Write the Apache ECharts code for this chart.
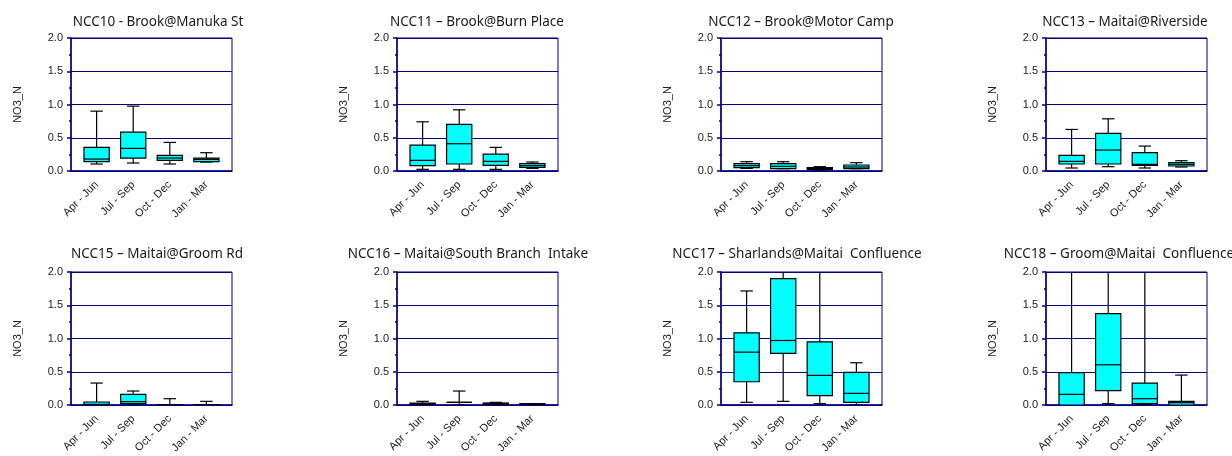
<!DOCTYPE html>
<html>
<head>
<meta charset="utf-8">
<script src="https://cdn.jsdelivr.net/npm/echarts@6/dist/echarts.min.js"></script>
<style>
  html, body { margin: 0; padding: 0; background: #fff; }
  #chart { width: 1232px; height: 456px; }
</style>
</head>
<body>
<div id="chart"></div>
<script>
// Seasonal NO3_N box plots for eight monitoring sites.
const seasons = ['Apr - Jun', 'Jul - Sep', 'Oct - Dec', 'Jan - Mar'];
const yTicks = [0, 0.5, 1.0, 1.5, 2.0];

const siteTitles = [
  'NCC10 - Brook@Manuka St',
  'NCC11 \u2013 Brook@Burn Place',
  'NCC12 \u2013 Brook@Motor Camp',
  'NCC13 \u2013 Maitai@Riverside',
  'NCC15 \u2013 Maitai@Groom Rd',
  'NCC16 \u2013 Maitai@South Branch  Intake',
  'NCC17 \u2013 Sharlands@Maitai  Confluence',
  'NCC18 \u2013 Groom@Maitai  Confluence'
];

// Each season: [min, Q1, median, Q3, max]
const ncc10 = [[0.105, 0.14, 0.18, 0.355, 0.90], [0.12, 0.195, 0.34, 0.585, 0.975], [0.105, 0.16, 0.195, 0.235, 0.43], [0.135, 0.14, 0.175, 0.195, 0.275]];
const ncc11 = [[0.025, 0.08, 0.16, 0.39, 0.74], [0.025, 0.105, 0.41, 0.70, 0.92], [0.025, 0.085, 0.145, 0.255, 0.355], [0.04, 0.055, 0.08, 0.11, 0.135]];
const ncc12 = [[0.04, 0.05, 0.08, 0.11, 0.14], [0.035, 0.035, 0.07, 0.11, 0.14], [0.015, 0.025, 0.035, 0.05, 0.065], [0.035, 0.035, 0.06, 0.09, 0.125]];
const ncc13 = [[0.045, 0.105, 0.145, 0.235, 0.625], [0.065, 0.105, 0.315, 0.565, 0.785], [0.045, 0.085, 0.10, 0.275, 0.375], [0.06, 0.075, 0.10, 0.125, 0.155]];
const ncc15 = [[0.0, 0.0, 0.01, 0.045, 0.33], [0.0, 0.02, 0.05, 0.16, 0.21], [0.0, 0.0, 0.003, 0.005, 0.095], [0.0, 0.0, 0.003, 0.005, 0.055]];
const ncc16 = [[0.0, 0.005, 0.02, 0.03, 0.055], [0.0, 0.04, 0.04, 0.04, 0.21], [0.01, 0.015, 0.02, 0.03, 0.04], [0.005, 0.01, 0.015, 0.02, 0.02]];
const ncc17 = [[0.04, 0.35, 0.795, 1.085, 1.715], [0.055, 0.775, 0.97, 1.90, 2.6], [0.02, 0.14, 0.445, 0.95, 2.4], [0.0, 0.04, 0.175, 0.49, 0.635]];
const ncc18 = [[0.0, 0.0, 0.16, 0.485, 2.8], [0.02, 0.215, 0.605, 1.375, 3.2], [0.01, 0.02, 0.095, 0.33, 2.5], [0.0, 0.0, 0.035, 0.055, 0.45]];

const siteData = [ncc10, ncc11, ncc12, ncc13, ncc15, ncc16, ncc17, ncc18];

// Panel layout (pixels)
const colLeft = [71, 397, 721, 1046];
const colTitleX = [153, 472, 796, 1120];
const row2TitleX = [152, 463, 792, 1114];
const rowTop = [38, 272];
const rowTitleTop = [10, 242];
const plotW = 161, plotH = 133;

const navy = '#000080';
const labelFont = 'Liberation Sans';

function renderBox(params, api) {
  const x = api.value(0);
  const lo = api.coord([x, api.value(1)]);
  const q1 = api.coord([x, api.value(2)]);
  const md = api.coord([x, api.value(3)]);
  const q3 = api.coord([x, api.value(4)]);
  const hi = api.coord([x, api.value(5)]);
  const unit = api.size([1, 0])[0];
  const half = unit * 0.345;
  const cap = unit * 0.17;
  const ln = { stroke: '#000', lineWidth: 1.2 };
  return {
    type: 'group',
    children: [
      { type: 'line', shape: { x1: lo[0], y1: lo[1], x2: hi[0], y2: hi[1] }, style: ln },
      { type: 'line', shape: { x1: hi[0] - cap, y1: hi[1], x2: hi[0] + cap, y2: hi[1] }, style: ln },
      { type: 'line', shape: { x1: lo[0] - cap, y1: lo[1], x2: lo[0] + cap, y2: lo[1] }, style: ln },
      { type: 'rect', shape: { x: q3[0] - half, y: q3[1], width: half * 2, height: q1[1] - q3[1] },
        style: { fill: '#00ffff', stroke: '#000', lineWidth: 1.2 } },
      { type: 'line', shape: { x1: md[0] - half, y1: md[1], x2: md[0] + half, y2: md[1] }, style: ln }
    ]
  };
}

const grids = [], xAxes = [], yAxes = [], series = [], titles = [];
siteData.forEach((rows, i) => {
  const r = Math.floor(i / 4), c = i % 4;
  grids.push({
    left: colLeft[c], top: rowTop[r], width: plotW, height: plotH,
    show: true, borderColor: navy, borderWidth: 1, backgroundColor: '#fff'
  });
  titles.push({
    text: siteTitles[i],
    left: r === 0 ? colTitleX[c] : row2TitleX[c],
    top: rowTitleTop[r],
    textAlign: 'center',
    textStyle: { fontFamily: 'Noto Sans', fontSize: 13.5, fontWeight: 'normal', color: '#1a1a1a' }
  });
  xAxes.push({
    gridIndex: i, type: 'value', min: 0.3, max: 4.7,
    axisLine: { show: true, lineStyle: { color: navy, width: 1.5 } },
    axisTick: { show: false },
    splitLine: { show: false },
    axisLabel: {
      customValues: [1, 2, 3, 4],
      formatter: v => seasons[Math.round(v) - 1] || '',
      rotate: 45, margin: 12, fontSize: 11, fontFamily: labelFont, color: '#1a1a1a'
    }
  });
  yAxes.push({
    gridIndex: i, type: 'value', min: 0, max: 2, interval: 0.5,
    name: 'NO3_N', nameLocation: 'middle', nameGap: 48,
    nameTextStyle: { fontSize: 11, fontFamily: labelFont, color: '#1a1a1a' },
    axisLine: { show: true, lineStyle: { color: navy, width: 1.5 } },
    axisTick: { show: true, length: 4, lineStyle: { color: navy, width: 1.5 } },
    minorTick: { show: true, splitNumber: 2, length: 2, lineStyle: { color: navy, width: 1.5 } },
    splitLine: { show: true, lineStyle: { color: navy, width: 1.2 } },
    axisLabel: {
      margin: 8, fontSize: 11, fontFamily: labelFont, color: '#1a1a1a',
      formatter: v => yTicks.includes(v) ? v.toFixed(1) : ''
    }
  });
  series.push({
    type: 'custom', xAxisIndex: i, yAxisIndex: i, clip: true,
    renderItem: renderBox,
    encode: { x: 0, y: [1, 2, 3, 4, 5] },
    data: rows.map((d, k) => [k + 1].concat(d))
  });
});

const chart = echarts.init(document.getElementById('chart'), null, { renderer: 'canvas' });
chart.setOption({
  animation: false,
  backgroundColor: '#fff',
  title: titles,
  grid: grids,
  xAxis: xAxes,
  yAxis: yAxes,
  series: series
});
</script>
</body>
</html>
